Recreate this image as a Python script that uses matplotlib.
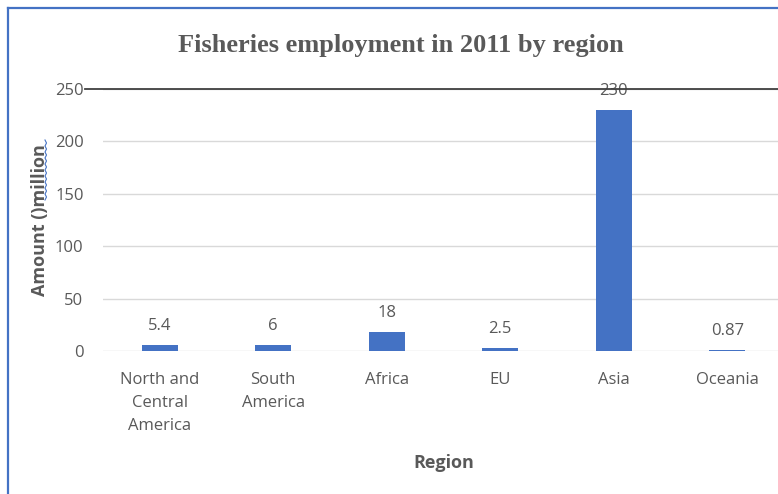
import numpy as np
import matplotlib.pyplot as plt
from matplotlib.lines import Line2D

regions = ["North and\nCentral\nAmerica", "South\nAmerica", "Africa", "EU", "Asia", "Oceania"]
employment = [5.4, 6, 18, 2.5, 230, 0.87]
value_labels = ["5.4", "6", "18", "2.5", "230", "0.87"]
y_ticks = [0, 50, 100, 150, 200, 250]

bar_color = "#4472C4"
text_gray = "#595959"

fig = plt.figure(figsize=(7.78, 4.94), dpi=100)
ax = fig.add_axes([103 / 778, 143 / 494, 681 / 778, 262 / 494])

x = np.arange(len(regions))
ax.bar(x, employment, width=0.32, color=bar_color, zorder=3)

for xi, val, lab in zip(x, employment, value_labels):
    ax.annotate(lab, (xi, val), xytext=(0, 8), textcoords="offset points",
                ha="center", va="bottom", fontsize=12, color=text_gray,
                family="Open Sans")

ax.set_xlim(-0.5, len(regions) - 0.5)
ax.set_ylim(0, 250)
ax.set_yticks(y_ticks)
ax.set_xticks(x)
ax.set_xticklabels(regions, fontsize=12, color=text_gray, family="Open Sans",
                   linespacing=1.6, va="top")
ax.tick_params(axis="y", labelsize=12, labelcolor=text_gray, length=0, pad=14)
ax.tick_params(axis="x", length=0, pad=15)
for lbl in ax.get_yticklabels():
    lbl.set_family("Open Sans")

# light gridlines; the top one is replaced by a darker rule below
ax.grid(axis="y", color="#d9d9d9", linewidth=1, zorder=0)
for s in ax.spines.values():
    s.set_visible(False)

ax.set_xlabel("Region", fontsize=13, fontweight="bold", color=text_gray,
              family="Open Sans", labelpad=14)
ax.set_ylabel("Amount ()million", fontsize=13, fontweight="bold", color=text_gray,
              family="Open Sans", labelpad=4)

fig.text(0.515, 0.907, "Fisheries employment in 2011 by region", ha="center", va="center",
         fontsize=19, fontweight="bold", color=text_gray, family="Liberation Serif")

# dark rule across the top at 250
top_y = ax.transData.transform((0, 250))[1] / fig.dpi / fig.get_figheight()
fig.add_artist(Line2D([85 / 778, 1], [top_y, top_y], color="#404040", linewidth=1.3, zorder=5))

# spell-check squiggle next to "million"
sq_y = np.linspace(140, 200, 21)
sq_x = 45 + 1.5 * (np.arange(len(sq_y)) % 2)
fig.add_artist(Line2D(sq_x / 778, 1 - sq_y / 494, color=bar_color, linewidth=0.8))

# blue frame along top and left edge
fig.add_artist(Line2D([8 / 778, 8 / 778], [0, 1 - 8 / 494], color=bar_color, linewidth=1.6))
fig.add_artist(Line2D([8 / 778, 1], [1 - 8 / 494, 1 - 8 / 494], color=bar_color, linewidth=1.6))

fig.savefig("out.png", dpi=100)
